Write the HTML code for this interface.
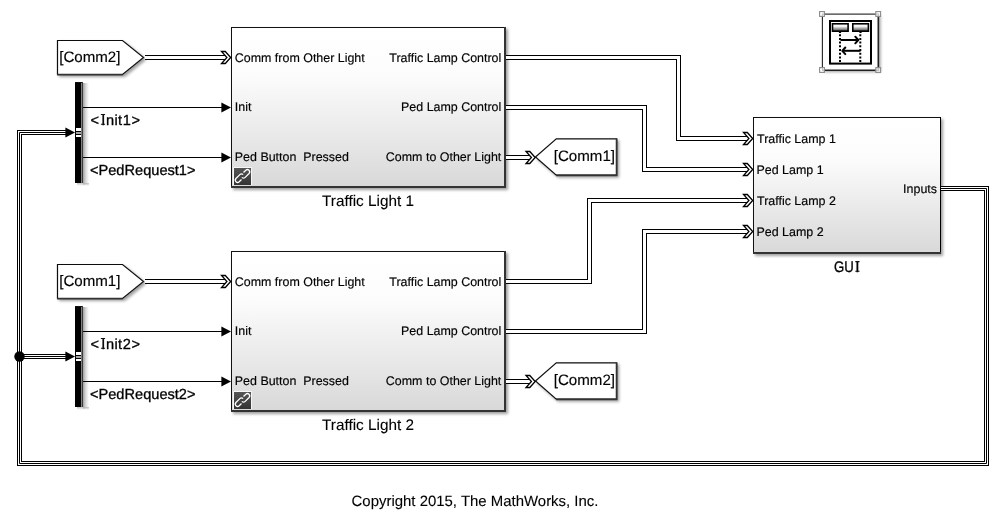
<!DOCTYPE html>
<html><head><meta charset="utf-8">
<style>
html,body{margin:0;padding:0;background:#fff;width:1004px;height:517px;overflow:hidden}
svg{display:block;will-change:transform}
text{font-family:"Liberation Sans",sans-serif;fill:#000;stroke:#000;stroke-width:0.15px}
.pl{font-size:12.45px}
.sl{font-size:14.6px;stroke-width:0.3px}
.fl{font-size:15.1px}
svg{text-rendering:geometricPrecision}
.bl{font-size:15.3px;stroke-width:0.1px}
</style></head>
<body>
<svg width="1004" height="517" viewBox="0 0 1004 517">
<defs>
<linearGradient id="g1" x1="0" y1="0" x2="0" y2="1">
<stop offset="0" stop-color="#ffffff"/>
<stop offset="0.3" stop-color="#fcfcfc"/>
<stop offset="1" stop-color="#d8d8d8"/>
</linearGradient>
<linearGradient id="g2" x1="0" y1="0" x2="0" y2="1">
<stop offset="0" stop-color="#ffffff"/>
<stop offset="0.35" stop-color="#f4f4f4"/>
<stop offset="1" stop-color="#444"/>
</linearGradient>
<filter id="sh" x="-20%" y="-20%" width="140%" height="140%">
<feGaussianBlur in="SourceAlpha" stdDeviation="1.6"/>
<feOffset dx="2" dy="2"/>
<feComponentTransfer><feFuncA type="linear" slope="0.38"/></feComponentTransfer>
<feMerge><feMergeNode/><feMergeNode in="SourceGraphic"/></feMerge>
</filter>
<linearGradient id="bsh" x1="0" y1="0" x2="1" y2="0">
<stop offset="0" stop-color="#a0a0a0"/>
<stop offset="0.45" stop-color="#d8d8d8"/>
<stop offset="1" stop-color="#fff"/>
</linearGradient>
<linearGradient id="bshv" x1="0" y1="0" x2="0" y2="1">
<stop offset="0" stop-color="#aaa"/>
<stop offset="1" stop-color="#fff"/>
</linearGradient>
<linearGradient id="lk" x1="0" y1="0" x2="0" y2="1">
<stop offset="0" stop-color="#555"/>
<stop offset="1" stop-color="#333"/>
</linearGradient>
</defs>
<rect x="231" y="27" width="275" height="161" fill="url(#g1)" filter="url(#sh)"/>
<g shape-rendering="crispEdges">
<rect x="231" y="27" width="275" height="1" fill="#111"/>
<rect x="231" y="27" width="1" height="161" fill="#111"/>
<rect x="504" y="27" width="2" height="161" fill="#333"/>
<rect x="231" y="186" width="275" height="2" fill="#333"/>
</g>
<text class="pl" x="234.8" y="61.5">Comm from Other Light</text>
<text class="pl" x="234.8" y="111">Init</text>
<text class="pl" x="234.8" y="161" xml:space="preserve">Ped Button  Pressed</text>
<text class="pl" x="501.3" y="61.5" text-anchor="end">Traffic Lamp Control</text>
<text class="pl" x="501.3" y="111" text-anchor="end">Ped Lamp Control</text>
<text class="pl" x="501.3" y="161" text-anchor="end">Comm to Other Light</text>
<rect x="233" y="167" width="19" height="18" fill="#f6f6f6" shape-rendering="crispEdges"/>
<rect x="234" y="168" width="17" height="17" fill="url(#lk)" shape-rendering="crispEdges"/>
<path d="M243.5,172.5 l2.3,-2.3 a2.3,2.3 0 0 1 3.25,3.25 l-3.9,3.9 a2.3,2.3 0 0 1 -3.25,0 M241.5,179.5 l-2.3,2.3 a2.3,2.3 0 0 1 -3.25,-3.25 l3.9,-3.9 a2.3,2.3 0 0 1 3.25,0" fill="none" stroke="#fff" stroke-width="1.3"/>
<text class="bl" x="368" y="206" text-anchor="middle">Traffic Light 1</text>
<rect x="231" y="251" width="275" height="161" fill="url(#g1)" filter="url(#sh)"/>
<g shape-rendering="crispEdges">
<rect x="231" y="251" width="275" height="1" fill="#111"/>
<rect x="231" y="251" width="1" height="161" fill="#111"/>
<rect x="504" y="251" width="2" height="161" fill="#333"/>
<rect x="231" y="410" width="275" height="2" fill="#333"/>
</g>
<text class="pl" x="234.8" y="285.5">Comm from Other Light</text>
<text class="pl" x="234.8" y="335">Init</text>
<text class="pl" x="234.8" y="385" xml:space="preserve">Ped Button  Pressed</text>
<text class="pl" x="501.3" y="285.5" text-anchor="end">Traffic Lamp Control</text>
<text class="pl" x="501.3" y="335" text-anchor="end">Ped Lamp Control</text>
<text class="pl" x="501.3" y="385" text-anchor="end">Comm to Other Light</text>
<rect x="233" y="391" width="19" height="18" fill="#f6f6f6" shape-rendering="crispEdges"/>
<rect x="234" y="392" width="17" height="17" fill="url(#lk)" shape-rendering="crispEdges"/>
<path d="M243.5,396.5 l2.3,-2.3 a2.3,2.3 0 0 1 3.25,3.25 l-3.9,3.9 a2.3,2.3 0 0 1 -3.25,0 M241.5,403.5 l-2.3,2.3 a2.3,2.3 0 0 1 -3.25,-3.25 l3.9,-3.9 a2.3,2.3 0 0 1 3.25,0" fill="none" stroke="#fff" stroke-width="1.3"/>
<text class="bl" x="368" y="430" text-anchor="middle">Traffic Light 2</text>
<rect x="753" y="117" width="188" height="137" fill="url(#g1)" filter="url(#sh)"/>
<g shape-rendering="crispEdges">
<rect x="753" y="117" width="188" height="1" fill="#111"/>
<rect x="753" y="117" width="1" height="137" fill="#111"/>
<rect x="940" y="117" width="1" height="137" fill="#000"/>
<rect x="753" y="252" width="188" height="2" fill="#333"/>
</g>
<text class="pl" x="757" y="142.5">Traffic Lamp 1</text>
<text class="pl" x="756.5" y="173.5">Ped Lamp 1</text>
<text class="pl" x="757" y="204.5">Traffic Lamp 2</text>
<text class="pl" x="756.5" y="235.5">Ped Lamp 2</text>
<text class="pl" x="937" y="192.5" text-anchor="end">Inputs</text>
<text class="bl" transform="translate(834.1,272) scale(0.86,1)" style="stroke-width:0.35px">GU</text><text class="bl" x="855.3" y="272" style="stroke-width:0.3px">I</text>
<path d="M855.3,261.6 H859.5 M855.3,271.3 H859.5" stroke="#111" stroke-width="1.1"/>
<path d="M57.5,40.5 H122.5 L143.5,57.5 L122.5,74.5 H57.5 Z" fill="#fff" stroke="#111" stroke-width="1.2" filter="url(#sh)"/>
<path d="M57,74.7 H122.8" stroke="#333" stroke-width="1.7"/>
<text class="fl" x="59.2" y="62">[Comm2]</text>
<path d="M57.5,264.5 H122.5 L143.5,281.5 L122.5,298.5 H57.5 Z" fill="#fff" stroke="#111" stroke-width="1.2" filter="url(#sh)"/>
<path d="M57,298.7 H122.8" stroke="#333" stroke-width="1.7"/>
<text class="fl" x="59.2" y="286">[Comm1]</text>
<path d="M535.5,157.0 L556.3,138.9 H616.5 V175.1 H556.3 Z" fill="#fff" stroke="#111" stroke-width="1.2" filter="url(#sh)"/>
<path d="M616.7,138.4 V175.29999999999998 H556.0" fill="none" stroke="#333" stroke-width="1.7"/>
<text class="fl" x="615" y="161.1" text-anchor="end">[Comm1]</text>
<path d="M535.5,381.0 L556.3,362.9 H616.5 V399.1 H556.3 Z" fill="#fff" stroke="#111" stroke-width="1.2" filter="url(#sh)"/>
<path d="M616.7,362.4 V399.3 H556.0" fill="none" stroke="#333" stroke-width="1.7"/>
<text class="fl" x="615" y="385.1" text-anchor="end">[Comm2]</text>
<rect x="83" y="83" width="6" height="102" fill="url(#bsh)" shape-rendering="crispEdges"/>
<rect x="77" y="183" width="12" height="3" fill="url(#bshv)" shape-rendering="crispEdges" opacity="0.7"/>
<g shape-rendering="crispEdges">
<rect x="75" y="82" width="6" height="101" fill="#000"/>
<rect x="75" y="82" width="8" height="1" fill="#111"/>
<rect x="81" y="83" width="1" height="100" fill="#808080"/>
<rect x="82" y="82" width="1" height="101" fill="#3c3c3c"/>
<rect x="76" y="128" width="5" height="3" fill="#fff"/>
<rect x="76" y="132" width="5" height="2" fill="#a8a8a8"/>
<rect x="76" y="135" width="5" height="2" fill="#fff"/>
</g>
<rect x="83" y="307" width="6" height="102" fill="url(#bsh)" shape-rendering="crispEdges"/>
<rect x="77" y="407" width="12" height="3" fill="url(#bshv)" shape-rendering="crispEdges" opacity="0.7"/>
<g shape-rendering="crispEdges">
<rect x="75" y="306" width="6" height="101" fill="#000"/>
<rect x="75" y="306" width="8" height="1" fill="#111"/>
<rect x="81" y="307" width="1" height="100" fill="#808080"/>
<rect x="82" y="306" width="1" height="101" fill="#3c3c3c"/>
<rect x="76" y="352" width="5" height="3" fill="#fff"/>
<rect x="76" y="356" width="5" height="2" fill="#a8a8a8"/>
<rect x="76" y="359" width="5" height="2" fill="#fff"/>
</g>
<g>
<path d="M145,57.5 H226" fill="none" stroke="#000" stroke-width="5" stroke-linejoin="miter"/><path d="M145,57.5 H226" fill="none" stroke="#fff" stroke-width="3" stroke-linejoin="miter"/>
<path d="M221.5,51.5 H225.3 L230.7,57.5 L225.3,63.5 H221.5 L226.9,57.5 Z" fill="#fff" stroke="#000" stroke-width="1.3" stroke-linejoin="miter"/>
<path d="M145,281.5 H226" fill="none" stroke="#000" stroke-width="5" stroke-linejoin="miter"/><path d="M145,281.5 H226" fill="none" stroke="#fff" stroke-width="3" stroke-linejoin="miter"/>
<path d="M221.5,275.5 H225.3 L230.7,281.5 L225.3,287.5 H221.5 L226.9,281.5 Z" fill="#fff" stroke="#000" stroke-width="1.3" stroke-linejoin="miter"/>
<path d="M83,107.5 H222" fill="none" stroke="#000" stroke-width="1"/>
<path d="M221.4,102.6 L231,107.5 L221.4,112.4 Z" fill="#000"/>
<path d="M83,157.5 H222" fill="none" stroke="#000" stroke-width="1"/>
<path d="M221.4,152.6 L231,157.5 L221.4,162.4 Z" fill="#000"/>
<path d="M83,331.5 H222" fill="none" stroke="#000" stroke-width="1"/>
<path d="M221.4,326.6 L231,331.5 L221.4,336.4 Z" fill="#000"/>
<path d="M83,381.5 H222" fill="none" stroke="#000" stroke-width="1"/>
<path d="M221.4,376.6 L231,381.5 L221.4,386.4 Z" fill="#000"/>
<path d="M506,157.5 H530" fill="none" stroke="#000" stroke-width="5" stroke-linejoin="miter"/><path d="M506,157.5 H530" fill="none" stroke="#fff" stroke-width="3" stroke-linejoin="miter"/>
<path d="M526.0,151.5 H529.8 L535.2,157.5 L529.8,163.5 H526.0 L531.4,157.5 Z" fill="#fff" stroke="#000" stroke-width="1.3" stroke-linejoin="miter"/>
<path d="M506,381.5 H530" fill="none" stroke="#000" stroke-width="5" stroke-linejoin="miter"/><path d="M506,381.5 H530" fill="none" stroke="#fff" stroke-width="3" stroke-linejoin="miter"/>
<path d="M526.0,375.5 H529.8 L535.2,381.5 L529.8,387.5 H526.0 L531.4,381.5 Z" fill="#fff" stroke="#000" stroke-width="1.3" stroke-linejoin="miter"/>
<path d="M506,57.5 H678.5 V138.5 H748" fill="none" stroke="#000" stroke-width="5" stroke-linejoin="miter"/><path d="M506,57.5 H678.5 V138.5 H748" fill="none" stroke="#fff" stroke-width="3" stroke-linejoin="miter"/>
<path d="M743.5,132.5 H747.3 L752.7,138.5 L747.3,144.5 H743.5 L748.9,138.5 Z" fill="#fff" stroke="#000" stroke-width="1.3" stroke-linejoin="miter"/>
<path d="M506,107.5 H644.5 V169.5 H748" fill="none" stroke="#000" stroke-width="5" stroke-linejoin="miter"/><path d="M506,107.5 H644.5 V169.5 H748" fill="none" stroke="#fff" stroke-width="3" stroke-linejoin="miter"/>
<path d="M743.5,163.5 H747.3 L752.7,169.5 L747.3,175.5 H743.5 L748.9,169.5 Z" fill="#fff" stroke="#000" stroke-width="1.3" stroke-linejoin="miter"/>
<path d="M506,281.5 H589.5 V200.5 H748" fill="none" stroke="#000" stroke-width="5" stroke-linejoin="miter"/><path d="M506,281.5 H589.5 V200.5 H748" fill="none" stroke="#fff" stroke-width="3" stroke-linejoin="miter"/>
<path d="M743.5,194.5 H747.3 L752.7,200.5 L747.3,206.5 H743.5 L748.9,200.5 Z" fill="#fff" stroke="#000" stroke-width="1.3" stroke-linejoin="miter"/>
<path d="M506,331.5 H644.5 V231.5 H748" fill="none" stroke="#000" stroke-width="5" stroke-linejoin="miter"/><path d="M506,331.5 H644.5 V231.5 H748" fill="none" stroke="#fff" stroke-width="3" stroke-linejoin="miter"/>
<path d="M743.5,225.5 H747.3 L752.7,231.5 L747.3,237.5 H743.5 L748.9,231.5 Z" fill="#fff" stroke="#000" stroke-width="1.3" stroke-linejoin="miter"/>
<path d="M941,188.5 H986.5 V463.5 H19.5 V132.5 H66" fill="none" stroke="#000" stroke-width="5"/><path d="M941,188.5 H986.5 V463.5 H19.5 V132.5 H66" fill="none" stroke="#fff" stroke-width="3"/><path d="M941,188.5 H986.5 V463.5 H19.5 V132.5 H66" fill="none" stroke="#000" stroke-width="1"/>
<path d="M65.4,127.6 L75,132.5 L65.4,137.4 Z" fill="#000"/>
<path d="M19.5,356.5 H66" fill="none" stroke="#000" stroke-width="5"/><path d="M19.5,356.5 H66" fill="none" stroke="#fff" stroke-width="3"/><path d="M19.5,356.5 H66" fill="none" stroke="#000" stroke-width="1"/>
<path d="M65.4,351.6 L75,356.5 L65.4,361.4 Z" fill="#000"/>
<circle cx="19.5" cy="356.5" r="5.2" fill="#000"/>
</g>
<text class="sl" y="125"><tspan x="90.4">&lt;</tspan><tspan x="101.2">I</tspan><tspan x="106.1">n</tspan><tspan x="114.5">i</tspan><tspan x="117.9">t</tspan><tspan x="122.8">1</tspan><tspan x="131.5">&gt;</tspan></text>
<text class="sl" x="90" y="175">&lt;PedRequest1&gt;</text>
<text class="sl" y="349"><tspan x="90.4">&lt;</tspan><tspan x="101.2">I</tspan><tspan x="106.1">n</tspan><tspan x="114.5">i</tspan><tspan x="117.9">t</tspan><tspan x="122.8">2</tspan><tspan x="131.5">&gt;</tspan></text>
<text class="sl" x="90" y="399">&lt;PedRequest2&gt;</text>
<path d="M100.9,114.5 H105.1 M100.9,124.3 H105.1 M100.9,338.5 H105.1 M100.9,348.3 H105.1" stroke="#111" stroke-width="1.1"/>
<g>
<rect x="822" y="13.5" width="56.5" height="56.5" fill="#fff" filter="url(#sh)"/>
<path d="M822.5,14.1 H878.5" stroke="#3a3a3a" stroke-width="1.4"/>
<path d="M822.4,13.5 V70" stroke="#222" stroke-width="1.1"/>
<path d="M878.3,13.5 V70.3 H822" stroke="#222" stroke-width="1.6" fill="none"/>
<rect x="830" y="21" width="41" height="42.6" fill="#fff" stroke="#000" stroke-width="2"/>
<rect x="832.5" y="23.8" width="15.6" height="7.4" fill="url(#g2)" stroke="#000" stroke-width="1.6"/>
<rect x="852.8" y="23.8" width="15.6" height="7.4" fill="url(#g2)" stroke="#000" stroke-width="1.6"/>
<path d="M840,31 V33 M860.5,31 V33" stroke="#000" stroke-width="2.2"/>
<path d="M840,34.2 V63 M860.3,34.2 V63" stroke="#000" stroke-width="2" stroke-dasharray="2,1.7"/>
<path d="M840.5,40 H858" stroke="#000" stroke-width="2"/>
<path d="M855.3,36.7 L858.3,40 L855.3,43.3" fill="none" stroke="#000" stroke-width="2" stroke-linecap="round" stroke-linejoin="round"/>
<path d="M842.3,50.8 H860.5" stroke="#000" stroke-width="2"/>
<path d="M845.3,47.5 L842.3,50.8 L845.3,54.1" fill="none" stroke="#000" stroke-width="2" stroke-linecap="round" stroke-linejoin="round"/>
<g fill="#fff" fill-opacity="0.75" stroke="#8a8a8a" stroke-width="1.1">
<rect x="819.6" y="11.6" width="4.8" height="4.8"/>
<rect x="875.8" y="11.6" width="4.8" height="4.8"/>
<rect x="819.6" y="67.6" width="4.8" height="4.8"/>
<rect x="875.8" y="67.6" width="4.8" height="4.8"/>
</g>
</g>
<text class="bl" x="475" y="506" text-anchor="middle" style="font-size:14.95px">Copyright 2015, The MathWorks, Inc.</text>
</svg>
</body></html>
